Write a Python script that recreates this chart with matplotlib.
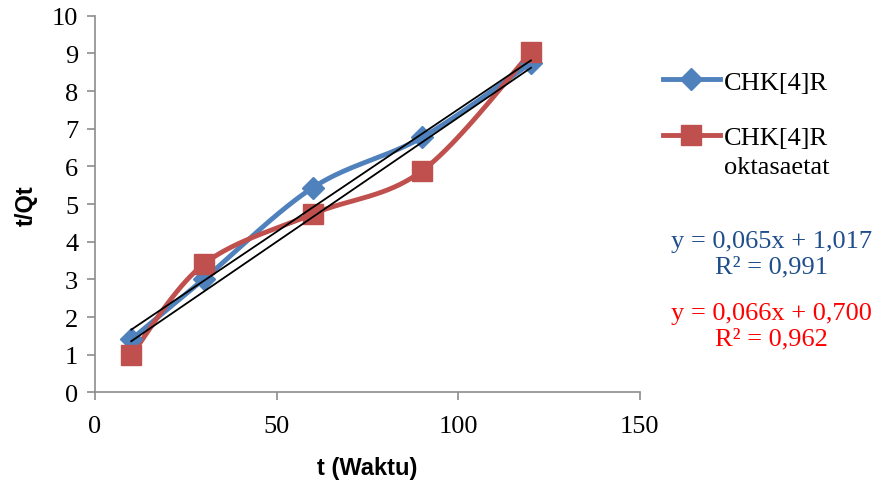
import numpy as np
import matplotlib
matplotlib.use('Agg')
import matplotlib.pyplot as plt
from matplotlib.lines import Line2D

# sampling time (minutes) and t/Qt for both adsorbents
waktu = [10, 30, 60, 90, 120]
chk4r = [1.41, 3.01, 5.44, 6.77, 8.75]
chk4r_okta = [0.99, 3.41, 4.74, 5.88, 9.03]

# linear fits as reported
fit_chk4r = (0.065, 1.017, 0.991)
fit_okta = (0.066, 0.700, 0.962)

blue = '#4F81BD'
red = '#C0504D'


def smooth(x, y, n=40):
    # bezier smoothing between points, control points from neighbouring slopes
    p = np.column_stack([x, y]).astype(float)
    pts = np.vstack([p[0], p, p[-1]])
    out = []
    t = np.linspace(0, 1, n)[:, None]
    for i in range(1, len(pts) - 2):
        p0, p1, p2, p3 = pts[i - 1], pts[i], pts[i + 1], pts[i + 2]
        b1 = p1 + (p2 - p0) / 6
        b2 = p2 - (p3 - p1) / 6
        seg = ((1 - t) ** 3) * p1 + 3 * ((1 - t) ** 2) * t * b1 + 3 * (1 - t) * t ** 2 * b2 + t ** 3 * p2
        out.append(seg if i == 1 else seg[1:])
    out = np.vstack(out)
    return out[:, 0], out[:, 1]


fig = plt.figure(figsize=(8.79, 4.81), dpi=100)
ax = fig.add_axes([0.108, 0.182, 0.620, 0.783])

serif = 'Liberation Serif'

for ys, c, m, ms in [(chk4r, blue, 'D', 11), (chk4r_okta, red, 's', 14)]:
    sx, sy = smooth(waktu, ys)
    ax.plot(sx, sy, color=c, lw=3.5, solid_capstyle='round', zorder=2)
    ax.plot(waktu, ys, ls='none', marker=m, ms=ms, color=c, zorder=3)

xt = np.array([waktu[0], waktu[-1]])
for slope, icpt, r2 in [fit_chk4r, fit_okta]:
    ax.plot(xt, slope * xt + icpt, color='black', lw=1.3, zorder=4)

ax.set_xlim(0, 150)
ax.set_ylim(0, 10)
ax.set_xticks([0, 50, 100, 150])
ax.set_yticks(range(0, 11))
for s in ['top', 'right']:
    ax.spines[s].set_visible(False)
for s in ['left', 'bottom']:
    ax.spines[s].set_color('#8C8C8C')
    ax.spines[s].set_linewidth(1.2)
ax.tick_params(colors='#8C8C8C', length=6, width=1.2, labelcolor='black')
for lab in ax.get_xticklabels() + ax.get_yticklabels():
    lab.set_fontfamily(serif)
    lab.set_fontsize(19)
ax.tick_params(axis='x', pad=10)
ax.tick_params(axis='y', pad=6)

ax.set_xlabel('t (Waktu)', fontsize=17, fontweight='bold', family='Liberation Sans', labelpad=14)
ax.set_ylabel('t/Qt', fontsize=17, fontweight='bold', family='Liberation Sans', labelpad=10)

# legend: handle sits on the first line of the second label
handles = [Line2D([], [], color=blue, lw=3.5, marker='D', ms=11),
           Line2D([], [], color=red, lw=3.5, marker='s', ms=14)]
fig.legend(handles, ['CHK[4]R', 'CHK[4]R'], loc='upper left',
           bbox_to_anchor=(0.754, 0.852), frameon=False, borderpad=0, borderaxespad=0,
           handlelength=2.15, handletextpad=0.15, labelspacing=1.22,
           prop={'family': serif, 'size': 19})
fig.text(0.8237, 0.651, 'oktasaetat', family=serif, fontsize=19, ha='left', va='center')

eq_cols = ['#1F4E8C', '#FF0000']
eq_y = [0.470, 0.320]
for (slope, icpt, r2), c, yy in zip([fit_chk4r, fit_okta], eq_cols, eq_y):
    txt = 'y = {:.3f}x + {:.3f}\nR² = {:.3f}'.format(slope, icpt, r2).replace('.', ',')
    fig.text(0.878, yy, txt, color=c, ha='center', va='center', multialignment='center',
             family=serif, fontsize=19, linespacing=1.22)

fig.savefig('out.png', dpi=100)
